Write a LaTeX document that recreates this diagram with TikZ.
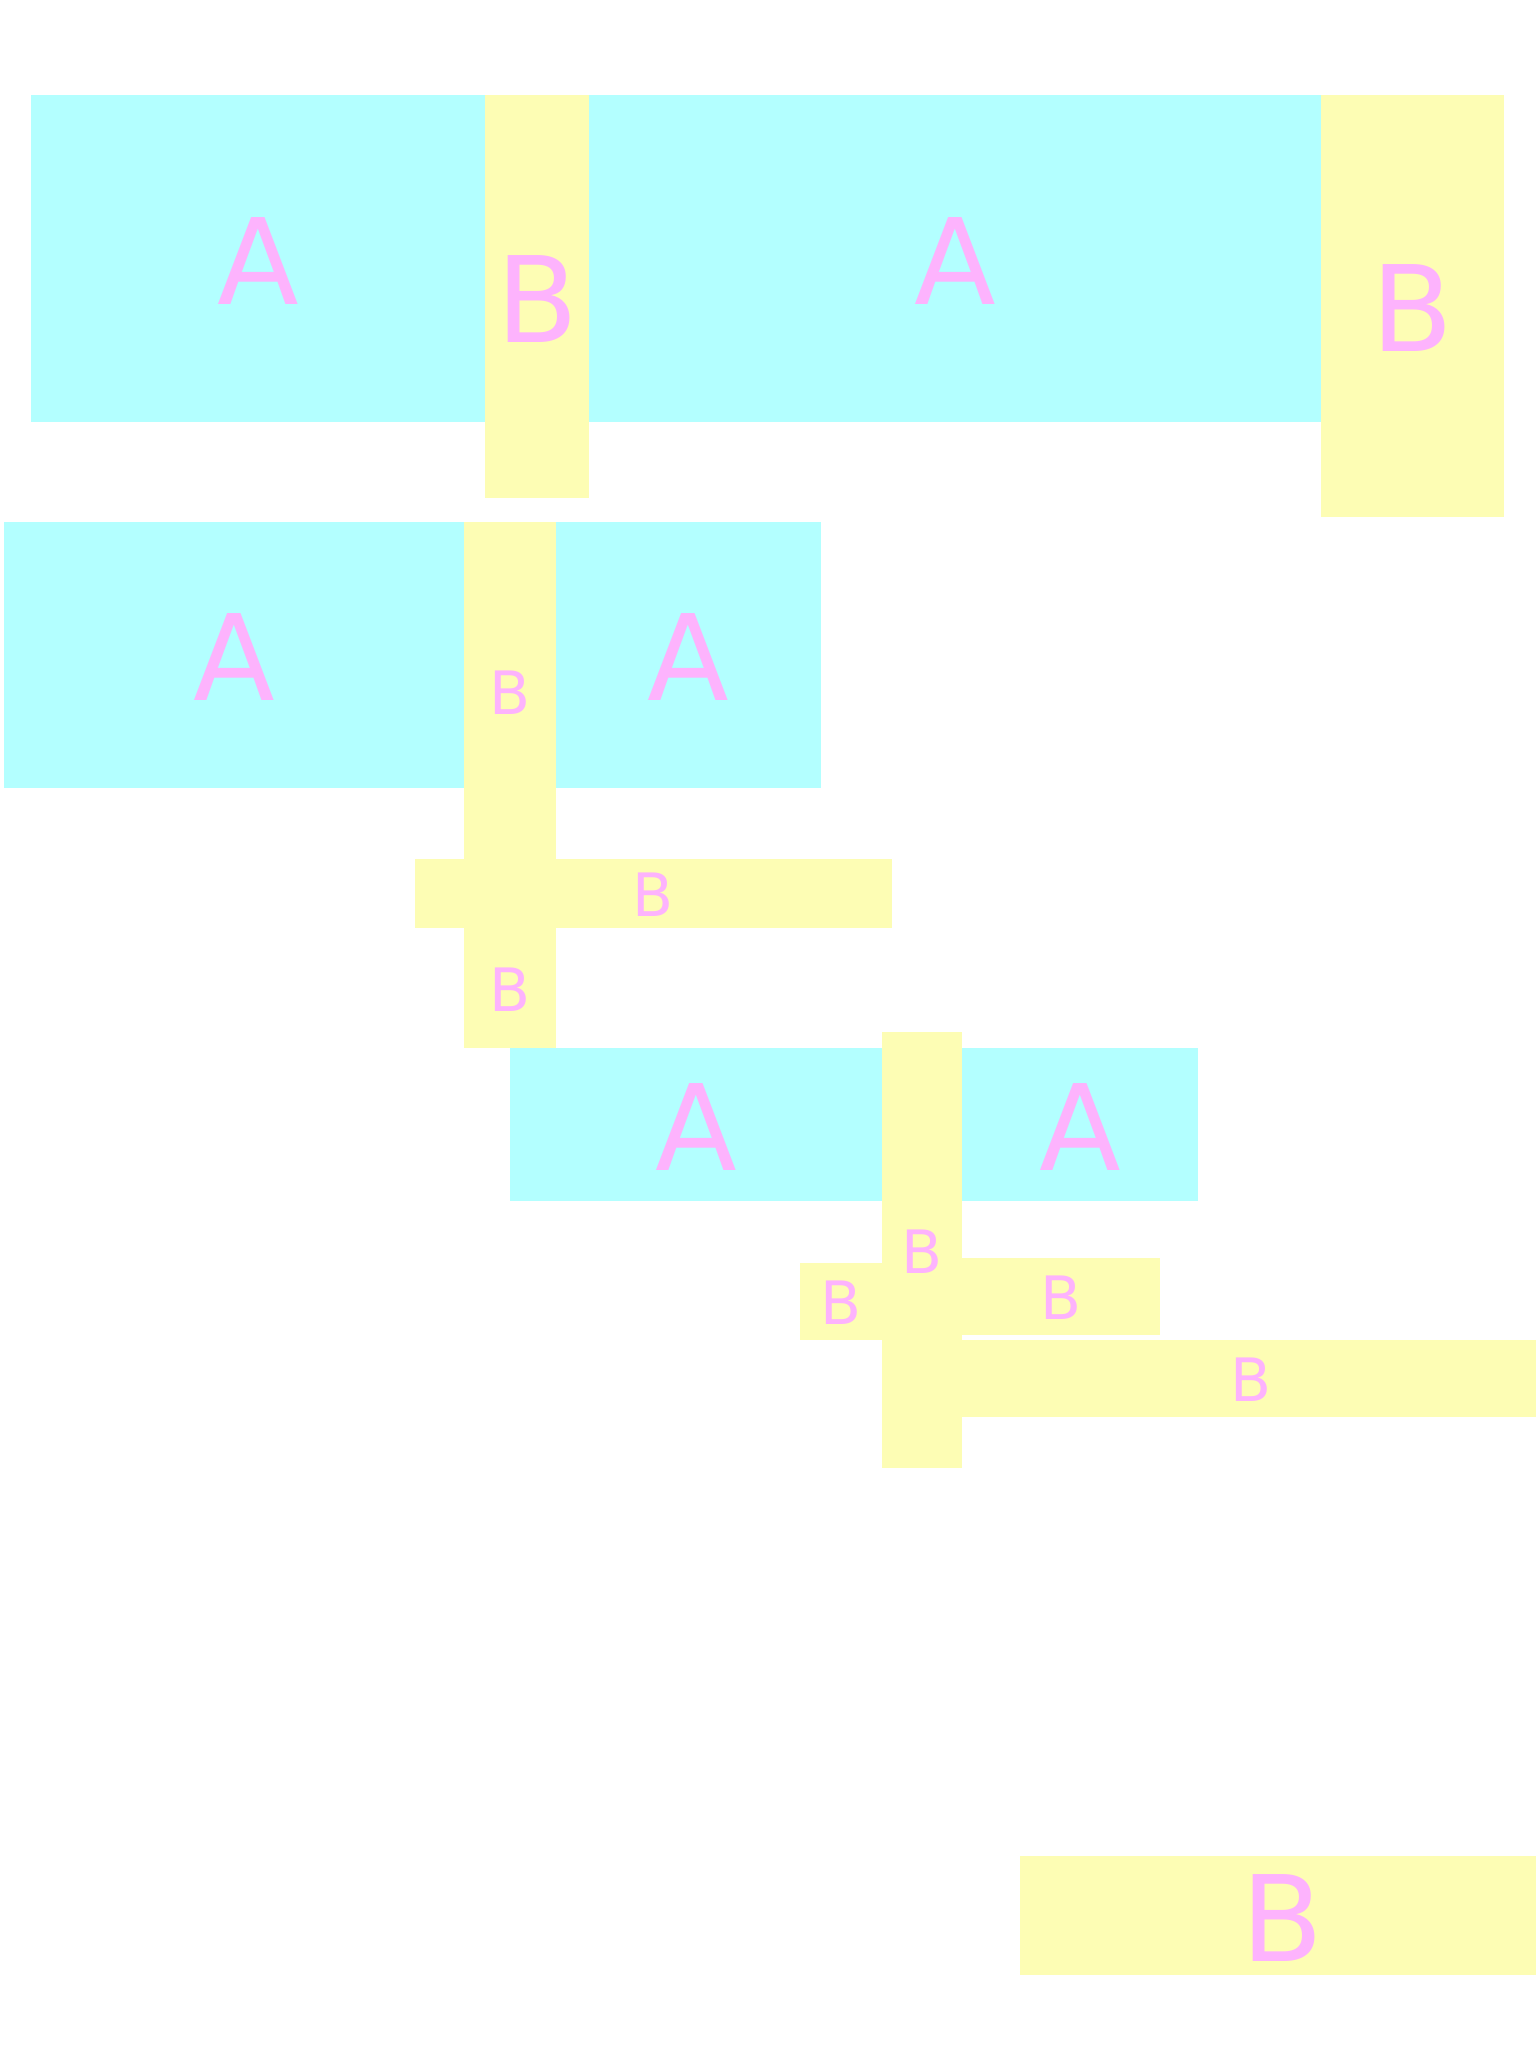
\documentclass[tikz,border=0pt]{standalone}
\usepackage{xcolor}
\usepackage{fontspec}
\setmainfont{DejaVu Sans}
\usepackage{tikz}
\usetikzlibrary{positioning}

\definecolor{cellA}{HTML}{B3FFFF}
\definecolor{cellB}{HTML}{FDFDB4}
\definecolor{labelpink}{HTML}{FDB3FD}

\begin{document}
\begin{tikzpicture}[x=1pt, y=-1pt,
		cell/.style={inner sep=0pt, outer sep=0pt, text=labelpink},
		cellsize/.style 2 args={minimum width=#1pt, minimum height=#2pt},
		cella/.style={cell, fill=cellA},
		cellb/.style={cell, fill=cellB},
		bigtext/.style={font=\fontsize{119.3}{120}\selectfont, text height=91.8pt},
		smalltext/.style={font=\fontsize{59.8}{60}\selectfont, text height=46pt}]
	\useasboundingbox (0,0) rectangle (1536,2048);
	\clip (0,0) rectangle (1536,2048);
	% top row
	\node[cella, bigtext, cellsize={454}{327}] (a1) at (258,258.5) {A};
	\node[cellb, bigtext, cellsize={104}{403}] (b1) at (537,296.5) {B};
	\node[cella, bigtext, cellsize={732}{327}] (a2) at (955,258.5) {A};
	\node[cellb, bigtext, cellsize={183}{422}] (b2) at (1412.5,306) {B};
	% second row
	\node[cella, bigtext, cellsize={460}{266}] (a3) at (234,655) {A};
	\node[cellb, smalltext, cellsize={92}{338}] (b3) at (510,691) {B};
	\node[cella, bigtext, cellsize={265}{266}] (a4) at (688.5,655) {A};
	\node[cellb, smalltext, cellsize={477}{69}] (b4) at (653.5,893.5) {B};
	\node[cellb, smalltext, cellsize={92}{120}] (b5) at (510,988) {B};
	% third row
	\node[cella, bigtext, cellsize={372}{153}] (a5) at (696,1124.5) {A};
	\node[cellb, smalltext, cellsize={80}{436}] (b6) at (922,1250) {B};
	\node[cella, bigtext, cellsize={236}{153}] (a6) at (1080,1124.5) {A};
	\node[cellb, smalltext, cellsize={82}{77}] (b7) at (841,1301.5) {B};
	\node[cellb, smalltext, cellsize={198}{77}] (b8) at (1061,1296.5) {B};
	\node[cellb, smalltext, cellsize={578}{77}] (b9) at (1251,1378.5) {B};
	% bottom
	\node[cellb, bigtext, cellsize={524}{119}] (b10) at (1282,1915.5) {B};
\end{tikzpicture}
\end{document}
